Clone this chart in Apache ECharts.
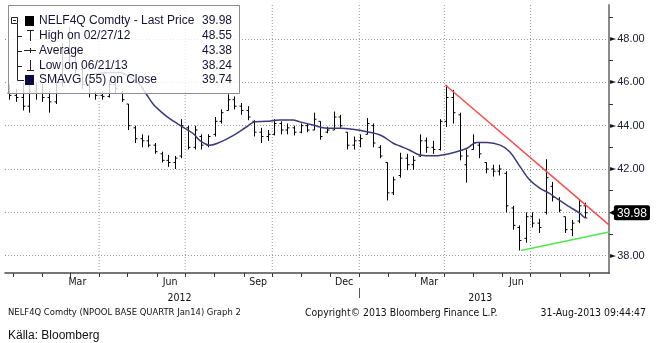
<!DOCTYPE html>
<html><head><meta charset="utf-8">
<script src="https://cdn.jsdelivr.net/npm/echarts@6/dist/echarts.min.js"></script>
<style>html,body{margin:0;padding:0;background:#fff}#c{width:657px;height:343px}</style>
</head><body><div id="c"></div>
<script>
// ---- data (weekly OHLC) ----
const weekDates = ['2011-12-28','2012-01-04','2012-01-11','2012-01-18','2012-01-25','2012-02-01','2012-02-08','2012-02-15','2012-02-22','2012-02-29','2012-03-07','2012-03-14','2012-03-21','2012-03-28','2012-04-04','2012-04-11','2012-04-18','2012-04-25','2012-05-02','2012-05-09','2012-05-16','2012-05-23','2012-05-30','2012-06-06','2012-06-13','2012-06-20','2012-06-27','2012-07-04','2012-07-11','2012-07-18','2012-07-25','2012-08-01','2012-08-08','2012-08-15','2012-08-22','2012-08-29','2012-09-05','2012-09-12','2012-09-19','2012-09-26','2012-10-03','2012-10-10','2012-10-17','2012-10-24','2012-10-31','2012-11-07','2012-11-14','2012-11-21','2012-11-28','2012-12-05','2012-12-12','2012-12-19','2012-12-26','2013-01-02','2013-01-09','2013-01-16','2013-01-23','2013-01-30','2013-02-06','2013-02-13','2013-02-20','2013-02-27','2013-03-06','2013-03-13','2013-03-20','2013-03-27','2013-04-03','2013-04-10','2013-04-17','2013-04-24','2013-05-01','2013-05-08','2013-05-15','2013-05-22','2013-05-29','2013-06-05','2013-06-12','2013-06-19','2013-06-26','2013-07-03','2013-07-10','2013-07-17','2013-07-24','2013-07-31','2013-08-07','2013-08-14','2013-08-21','2013-08-28'];
const openV  = [45.5,45.4,45.3,44.9,45.6,45.5,45.3,45.1,46.0,47.5,47.2,46.6,45.9,45.5,45.4,45.35,45.9,45.5,45.0,43.9,43.4,43.3,43.1,42.7,42.4,42.3,42.6,43.9,43.0,43.5,43.1,43.6,44.2,44.7,45.2,44.9,44.7,44.2,43.7,43.5,43.6,44.1,43.8,43.9,43.7,44.0,43.8,44.2,43.7,43.8,44.4,43.7,43.1,43.3,43.6,44.0,43.0,42.3,40.9,41.7,42.5,42.2,42.6,43.3,43.0,42.9,44.2,45.3,44.5,42.2,42.9,43.1,42.3,42.0,41.9,41.8,40.2,39.3,38.8,39.8,39.5,40.0,41.2,40.6,39.8,39.2,39.6,40.3];
const highV  = [45.9,45.7,46.0,46.1,46.0,45.9,45.6,46.3,47.8,48.55,47.4,46.8,46.1,45.6,45.6,46.1,46.1,45.6,45.0,44.0,43.6,43.55,43.2,42.8,42.65,42.6,44.3,44.0,44.0,43.6,43.6,44.4,44.75,45.45,45.35,45.05,44.9,44.25,43.9,43.8,44.3,44.2,44.1,44.0,44.1,44.1,44.6,44.2,43.95,44.65,44.5,43.7,43.5,43.6,44.35,44.1,43.1,42.3,41.65,42.75,42.7,42.6,43.6,43.45,43.3,44.3,45.88,45.65,44.6,42.9,43.6,43.2,42.3,42.2,42.2,41.9,40.3,39.4,40.0,40.0,39.7,42.45,41.4,40.7,39.8,39.65,40.57,40.45];
const lowV   = [45.2,45.1,44.7,44.6,45.2,45.1,44.6,45.0,45.8,46.8,46.4,45.7,45.3,45.2,45.2,45.3,45.5,45.1,43.8,43.2,43.0,43.0,42.7,42.3,42.1,42.0,42.5,42.9,42.9,42.9,43.0,43.5,44.1,44.7,44.75,44.5,44.25,43.5,43.2,43.3,43.55,43.6,43.6,43.55,43.65,43.7,43.8,43.35,43.65,43.8,43.9,42.9,42.9,43.0,43.6,43.0,42.5,40.55,40.8,41.6,41.95,41.96,42.55,42.75,42.7,42.85,43.94,44.1,42.4,41.37,42.9,42.5,41.8,41.65,41.7,40.0,39.2,38.24,38.6,39.3,39.05,39.9,40.5,40.0,39.05,38.9,39.5,39.75];
const closeV = [45.4,45.3,44.9,45.6,45.5,45.3,45.1,46.0,47.5,47.2,46.6,45.9,45.5,45.4,45.35,45.9,45.7,45.2,44.0,43.4,43.3,43.1,42.8,42.4,42.3,42.5,44.0,43.0,43.8,43.1,43.5,44.2,44.6,45.2,44.9,44.7,44.4,43.7,43.5,43.6,44.1,43.8,43.9,43.7,44.0,43.8,44.3,43.5,43.8,44.4,44.0,43.1,43.3,43.4,44.1,43.2,42.6,40.9,41.5,42.5,42.2,42.4,43.3,43.0,42.9,44.2,45.3,44.6,42.6,42.6,43.2,42.7,42.0,41.9,42.0,40.3,39.4,38.7,39.8,39.5,39.3,41.6,40.7,40.1,39.2,39.5,40.3,39.98];

const smaDates  = ['2012-03-26','2012-04-02','2012-04-12','2012-04-23','2012-04-30','2012-05-07','2012-05-14','2012-05-21','2012-05-28','2012-06-04','2012-06-12','2012-06-25','2012-07-09','2012-07-17','2012-07-27','2012-08-07','2012-08-21','2012-09-04','2012-09-13','2012-09-25','2012-10-09','2012-10-23','2012-10-30','2012-11-13','2012-11-28','2012-12-12','2012-12-25','2013-01-09','2013-01-23','2013-02-06','2013-02-13','2013-02-23','2013-03-06','2013-03-20','2013-03-30','2013-04-14','2013-04-25','2013-05-05','2013-05-16','2013-05-30','2013-06-09','2013-06-20','2013-06-30','2013-07-11','2013-07-21','2013-07-31','2013-08-11','2013-08-22','2013-08-27','2013-08-30'];
const smaValues = [46.38,46.42,46.45,46.45,46.33,46.15,45.9,45.45,45.0,44.7,44.41,44.03,43.65,43.3,43.1,43.24,43.55,43.95,44.18,44.2,44.26,44.26,44.18,44.03,43.88,43.88,43.83,43.72,43.57,43.19,43.06,42.88,42.65,42.61,42.65,42.8,42.96,43.22,43.22,43.1,42.8,42.11,41.5,41.11,40.88,40.57,40.26,39.96,39.77,39.74];

const resistDates  = ['2013-04-02','2013-09-22'];
const resistValues = [45.88, 39.42];
const supportDates  = ['2013-06-21','2013-09-22'];
const supportValues = [38.24, 39.09];

const monthTickDates = ['2012-01-01','2012-02-01','2012-03-01','2012-04-01','2012-05-01','2012-06-01','2012-07-01','2012-08-01','2012-09-01','2012-10-01','2012-11-01','2012-12-01','2013-01-01','2013-02-01','2013-03-01','2013-04-01','2013-05-01','2013-06-01','2013-07-01','2013-08-01','2013-09-01'];
const monthLabelDates = ['2012-03-09','2012-06-15','2012-09-16','2012-12-16','2013-03-16','2013-06-16'];
const monthLabels = ['Mar','Jun','Sep','Dec','Mar','Jun'];
const quarterLineDates = ['2012-04-01','2012-07-01','2012-10-01','2013-01-01','2013-04-01','2013-07-01'];
const yearLabelDates = ['2012-06-25','2013-05-09'];
const yearLabels = ['2012','2013'];
const yearSeparatorDates = ['2013-01-01'];
const yGridValues = [38,40,42,44,46,48];
const yLabelValues = [38,42,44,46,48];
const yMinorValues = [39,41,43,45,47,49];
const lastPrice = 39.98;

const legendNames  = ['NELF4Q Comdty - Last Price','High on 02/27/12','Average','Low on 06/21/13','SMAVG (55) on Close'];
const legendValues = ['39.98','48.55','43.38','38.24','39.74'];

const footerLeft = 'NELF4Q Comdty (NPOOL BASE QUARTR Jan14) Graph 2';
const footerMid = 'Copyright\u00a9 2013 Bloomberg Finance L.P.';
const footerRight = '31-Aug-2013 09:44:47';
const sourceText = 'K\u00e4lla: Bloomberg';

// ---- helpers ----
const t = s => { const p = s.split(/[- :]/).map(Number); return Date.UTC(p[0], p[1]-1, p[2], p[3]||0); };
const near = (arr, v) => arr.findIndex(a => Math.abs(t(a) - v) < 43200000);
const NARROW = "'Liberation Sans Narrow','DejaVu Sans Condensed','Arial Narrow',sans-serif";
const SANS = "'Liberation Sans',Arial,sans-serif";
const xMin = t('2011-12-23 12'), xMax = t('2013-09-22');
const yMin = 37.2, yMax = 49.57;

const chart = echarts.init(document.getElementById('c'), null, {renderer:'canvas'});

const ohlc = weekDates.map((d,i)=>[t(d), openV[i], closeV[i], lowV[i], highV[i]]);
const quarterSegments = [];
quarterLineDates.forEach(d=>{ quarterSegments.push([t(d), yMin], [t(d), yMax], [t(d), '-']); });

const baseX = {type:'value', min:xMin, max:xMax, gridIndex:0, position:'bottom', scale:true};

// legend graphics
const lg = [];
lg.push({type:'rect', shape:{x:8.5,y:5.5,width:231,height:88}, style:{fill:'rgba(255,255,255,0.8)', stroke:'#8d8d8d', lineWidth:1}, z:100});
const rowY = [21,36,51,66,80];
const txtCol = '#151538';
legendNames.forEach((n,i)=>{
  lg.push({type:'text', x:39, y:rowY[i], style:{text:n, fill:txtCol, fontSize:12, fontFamily:SANS, verticalAlign:'middle'}, z:101});
  lg.push({type:'text', x:232, y:rowY[i], style:{text:legendValues[i], fill:txtCol, fontSize:12, fontFamily:SANS, align:'right', verticalAlign:'middle'}, z:101});
});
lg.push({type:'rect', shape:{x:11.5,y:17.5,width:6,height:6}, style:{fill:'#fff', stroke:'#222', lineWidth:1}, z:101});
lg.push({type:'line', shape:{x1:13,y1:20.5,x2:16,y2:20.5}, style:{stroke:'#222', lineWidth:1}, z:101});
lg.push({type:'line', shape:{x1:17.5,y1:24,x2:17.5,y2:80.5}, style:{stroke:'#222', lineWidth:1}, z:101});
[36,51,66].forEach(y=>lg.push({type:'line', shape:{x1:18,y1:y+0.5,x2:22,y2:y+0.5}, style:{stroke:'#222', lineWidth:1}, z:101}));
lg.push({type:'line', shape:{x1:17.5,y1:80.5,x2:24,y2:80.5}, style:{stroke:'#222', lineWidth:1}, z:101});
lg.push({type:'rect', shape:{x:25,y:16,width:9,height:10}, style:{fill:'#000'}, z:101});
lg.push({type:'rect', shape:{x:25,y:75,width:9,height:10}, style:{fill:'#0a0a46'}, z:101});
lg.push({type:'line', shape:{x1:27,y1:30.5,x2:34,y2:30.5}, style:{stroke:'#222', lineWidth:1}, z:101});
lg.push({type:'line', shape:{x1:30.5,y1:30.5,x2:30.5,y2:41}, style:{stroke:'#222', lineWidth:1}, z:101});
lg.push({type:'line', shape:{x1:24,y1:50.5,x2:36,y2:50.5}, style:{stroke:'#222', lineWidth:1}, z:101});
lg.push({type:'line', shape:{x1:30.5,y1:48,x2:30.5,y2:53}, style:{stroke:'#222', lineWidth:1}, z:101});
lg.push({type:'line', shape:{x1:30.5,y1:60,x2:30.5,y2:70.5}, style:{stroke:'#222', lineWidth:1}, z:101});
lg.push({type:'line', shape:{x1:27,y1:70.5,x2:34,y2:70.5}, style:{stroke:'#222', lineWidth:1}, z:101});
lg.push({type:'text', x:8, y:313, style:{text:footerLeft, fill:'#111', fontSize:9.4, fontFamily:NARROW, verticalAlign:'middle'}});
lg.push({type:'text', x:305, y:313, style:{text:footerMid, fill:'#111', fontSize:10.4, fontFamily:NARROW, verticalAlign:'middle'}});
lg.push({type:'text', x:646, y:313, style:{text:footerRight, fill:'#111', fontSize:10.4, fontFamily:NARROW, align:'right', verticalAlign:'middle'}});
lg.push({type:'text', x:8, y:336, style:{text:sourceText, fill:'#111', fontSize:12, fontFamily:SANS, verticalAlign:'middle'}});

const option = {
  animation:false,
  backgroundColor:'#fff',
  grid:{left:5, right:48, top:5, bottom:70, containLabel:false},
  xAxis:[
    Object.assign({}, baseX, {
      axisLine:{show:true, lineStyle:{color:'#4a4a4a', width:1.5}},
      axisTick:{show:true, customValues:monthTickDates.map(t), length:4, lineStyle:{color:'#333'}},
      axisLabel:{show:true, customValues:monthLabelDates.map(t), margin:4, color:'#111', fontSize:10.5, fontFamily:NARROW,
        formatter:(v)=>{ const j = near(monthLabelDates, v); return j>=0 ? monthLabels[j] : ''; }},
      splitLine:{show:false}
    }),
    Object.assign({}, baseX, {
      offset:15,
      axisLine:{show:false},
      axisTick:{show:true, customValues:yearSeparatorDates.map(t), length:10, lineStyle:{color:'#555'}},
      axisLabel:{show:true, customValues:yearLabelDates.map(t), margin:5, color:'#111', fontSize:10.5, fontFamily:NARROW,
        formatter:(v)=>{ const j = near(yearLabelDates, v); return j>=0 ? yearLabels[j] : ''; }},
      splitLine:{show:false}
    })
  ],
  yAxis:[
    {type:'value', min:yMin, max:yMax, position:'right', gridIndex:0,
      axisLine:{show:true, lineStyle:{color:'#8a8a8a', width:2}},
      axisTick:{show:false, customValues:yGridValues},
      axisLabel:{show:true, customValues:yLabelValues, margin:1,
        formatter:(v)=>'{a|\u25BA}{b|'+Number(v).toFixed(2)+'}',
        rich:{a:{fontSize:8, color:'#111', fontFamily:'DejaVu Sans', padding:[0,1,0,0]}, b:{fontSize:11, color:'#1b1b33', fontFamily:SANS}}},
      splitLine:{show:true, lineStyle:{color:'#9a9a9a', width:1, type:[1,2]}}
    },
    {type:'value', min:yMin, max:yMax, position:'right', gridIndex:0,
      axisLine:{show:false},
      axisTick:{show:true, customValues:yMinorValues, length:4, lineStyle:{color:'#333'}},
      axisLabel:{show:false},
      splitLine:{show:false}
    }
  ],
  series:[
    {
      type:'line', name:'quarterGrid', xAxisIndex:0, yAxisIndex:0, z:1, silent:true,
      data:quarterSegments, showSymbol:false, connectNulls:false,
      lineStyle:{color:'#9a9a9a', width:1, type:[1,2]}
    },
    {
      type:'custom', name:'price', xAxisIndex:0, yAxisIndex:0, z:3,
      data:ohlc,
      encode:{x:0, y:[1,2,3,4]},
      renderItem:(params, api)=>{
        const x = api.value(0);
        const pO = api.coord([x, api.value(1)]);
        const pC = api.coord([x, api.value(2)]);
        const pL = api.coord([x, api.value(3)]);
        const pH = api.coord([x, api.value(4)]);
        const cx = Math.round(pL[0]) + 0.5;
        const st = {stroke:'#000', lineWidth:1};
        return {type:'group', children:[
          {type:'line', shape:{x1:cx, y1:pH[1], x2:cx, y2:pL[1]}, style:st},
          {type:'line', shape:{x1:cx-2, y1:pO[1], x2:cx, y2:pO[1]}, style:st},
          {type:'line', shape:{x1:cx, y1:pC[1], x2:cx+2, y2:pC[1]}, style:st}
        ]};
      }
    },
    {
      type:'line', name:'SMAVG', xAxisIndex:0, yAxisIndex:0, z:4,
      data:smaDates.map((d,i)=>[t(d), smaValues[i]]),
      showSymbol:false, smooth:0.4,
      lineStyle:{color:'#3b3b7c', width:1.5},
      markLine:{silent:true, symbol:'none', animation:false,
        lineStyle:{color:'rgba(0,0,0,0)', width:0},
        data:[{yAxis:lastPrice}],
        label:{show:true, position:'end', distance:0, opacity:1,
          formatter:'{a|\u25C0}{b|'+lastPrice.toFixed(2)+'}',
          rich:{a:{fontSize:9, color:'#000', fontFamily:'DejaVu Sans', padding:[0,-2,0,0]},
                b:{fontSize:12, color:'#fff', backgroundColor:'#000', fontFamily:SANS, padding:[2,3,1,3], borderRadius:2}}}
      }
    },
    {
      type:'line', name:'resistance', xAxisIndex:0, yAxisIndex:0, z:5,
      data:resistDates.map((d,i)=>[t(d), resistValues[i]]),
      showSymbol:false, lineStyle:{color:'#ff4a4a', width:1.5}
    },
    {
      type:'line', name:'support', xAxisIndex:0, yAxisIndex:0, z:5,
      data:supportDates.map((d,i)=>[t(d), supportValues[i]]),
      showSymbol:false, lineStyle:{color:'#4ce84c', width:1.5}
    }
  ],
  graphic:lg
};
chart.setOption(option);
</script>
</body></html>
